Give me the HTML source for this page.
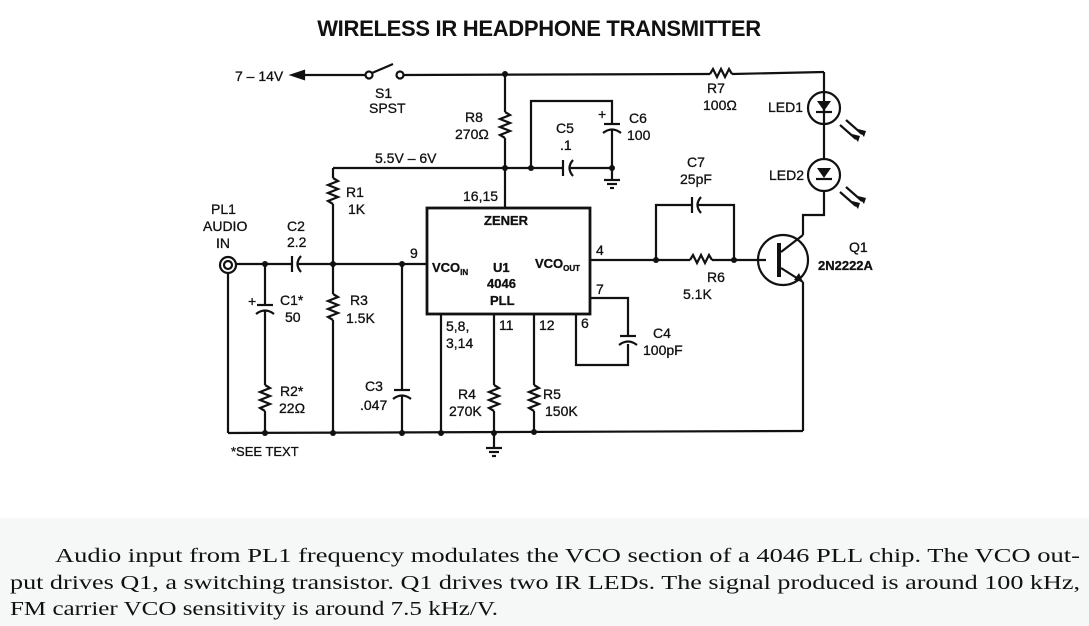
<!DOCTYPE html>
<html><head><meta charset="utf-8"><style>
html,body{margin:0;padding:0;background:#fff}
svg{display:block}
text{font-family:"Liberation Sans",Arial,sans-serif;fill:#111}
.l{font-size:14px;stroke:#111;stroke-width:0.3}
.b{font-weight:bold}
.s{font-family:"Liberation Serif",serif;font-size:20px}
</style></head><body>
<svg width="1089" height="626" viewBox="0 0 1089 626" xmlns="http://www.w3.org/2000/svg">
<rect x="0" y="0" width="1089" height="626" fill="#fff"/>
<rect x="0" y="518" width="1089" height="108" fill="#f6f7f7"/>
<text x="539" y="36" text-anchor="middle" class="b" font-size="22" letter-spacing="-0.3">WIRELESS IR HEADPHONE TRANSMITTER</text>
<g stroke="#111" stroke-width="2.2" fill="none">
<line x1="300" y1="75" x2="365" y2="75"/>
<polygon points="292,75 304,71 304,79" fill="#111"/>
<circle cx="369" cy="75" r="3.5"/><circle cx="400" cy="75" r="3.5"/>
<line x1="372" y1="73" x2="393" y2="64"/>
<line x1="404" y1="75" x2="710" y2="74"/>
<polyline points="710,74 713,69 717,77 721,69 725,77 729,69 732,74"/>
<line x1="732" y1="74" x2="824" y2="72"/>
<line x1="505" y1="74" x2="505" y2="112"/>
<polyline points="505,112 510,115 500,119 510,123 500,127 510,131 500,135 505,138"/>
<line x1="505" y1="138" x2="505" y2="208"/>
<line x1="333" y1="168" x2="563" y2="168"/>
<line x1="563" y1="160" x2="563" y2="176"/>
<path d="M573,160 Q566,168 573,176"/>
<line x1="569" y1="168" x2="612" y2="168"/>
<polyline points="531,168 531,101 612,101 612,124"/>
<line x1="604" y1="124" x2="620" y2="124"/>
<path d="M603,133 Q612,126 621,133"/>
<line x1="612" y1="129" x2="612" y2="180"/>
<line x1="604" y1="180" x2="620" y2="180"/><line x1="607" y1="184" x2="617" y2="184"/><line x1="610" y1="188" x2="614" y2="188"/>
<line x1="333" y1="168" x2="333" y2="178"/>
<polyline points="333,178 338,181 328,185 338,189 328,193 338,197 328,201 333,204"/>
<line x1="333" y1="204" x2="333" y2="294"/>
<polyline points="333,294 338,297 328,301 338,305 328,309 338,313 328,317 333,320"/>
<line x1="333" y1="320" x2="333" y2="433"/>
<circle cx="228" cy="265" r="8"/><circle cx="228" cy="265" r="4"/>
<line x1="236" y1="264" x2="292" y2="264"/>
<line x1="292" y1="256" x2="292" y2="272"/>
<path d="M301,256 Q294,264 301,272"/>
<line x1="298" y1="264" x2="427" y2="264"/>
<line x1="228" y1="273" x2="228" y2="433"/>
<line x1="228" y1="433" x2="803" y2="431"/>
<line x1="265" y1="264" x2="265" y2="305"/>
<line x1="257" y1="305" x2="273" y2="305"/>
<path d="M256,314 Q265,307 274,314"/>
<line x1="265" y1="310" x2="265" y2="385"/>
<polyline points="265,385 270,388 260,392 270,396 260,400 270,404 260,408 265,411"/>
<line x1="265" y1="411" x2="265" y2="433"/>
<line x1="402" y1="264" x2="402" y2="390"/>
<line x1="394" y1="390" x2="410" y2="390"/>
<path d="M393,399 Q402,392 411,399"/>
<line x1="402" y1="395" x2="402" y2="433"/>
<rect x="427" y="208" width="163" height="106" stroke-width="2.8"/>
<line x1="441" y1="314" x2="441" y2="433"/>
<line x1="494" y1="314" x2="494" y2="385"/>
<polyline points="494,385 499,388 489,392 499,396 489,400 499,404 489,408 494,411"/>
<line x1="494" y1="411" x2="494" y2="448"/>
<line x1="486" y1="448" x2="502" y2="448"/><line x1="489" y1="452" x2="499" y2="452"/><line x1="492" y1="456" x2="496" y2="456"/>
<line x1="534" y1="314" x2="534" y2="385"/>
<polyline points="534,385 539,388 529,392 539,396 529,400 539,404 529,408 534,411"/>
<line x1="534" y1="411" x2="534" y2="432"/>
<polyline points="576,314 576,365 628,365 628,344"/>
<path d="M619,345 Q628,338 637,345"/>
<line x1="620" y1="336" x2="636" y2="336"/>
<polyline points="628,336 628,298 590,298"/>
<line x1="590" y1="260" x2="690" y2="260"/>
<polyline points="690,260 693,255 697,263 701,255 705,263 709,255 712,260"/>
<line x1="712" y1="260" x2="766" y2="260"/>
<polyline points="656,260 656,205 692,205"/>
<line x1="692" y1="197" x2="692" y2="213"/>
<path d="M701,197 Q694,205 701,213"/>
<polyline points="698,205 734,205 734,260"/>
<circle cx="783" cy="260" r="25"/>
<line x1="779" y1="243" x2="779" y2="277" stroke-width="4"/>
<line x1="781" y1="252" x2="803" y2="235"/>
<line x1="781" y1="268" x2="803" y2="282"/>
<polyline points="803,235 803,215 824,215 824,190"/>
<line x1="803" y1="282" x2="803" y2="431"/>
<line x1="824" y1="72" x2="824" y2="158"/>
<circle cx="824" cy="108" r="16"/>
<line x1="816" y1="112" x2="832" y2="112"/>
<circle cx="824" cy="175" r="16"/>
<line x1="816" y1="179" x2="832" y2="179"/>
<line x1="840" y1="125" x2="856" y2="139"/><line x1="846" y1="120" x2="862" y2="134"/>
<line x1="840" y1="192" x2="856" y2="206"/><line x1="846" y1="187" x2="862" y2="201"/>
</g>
<g fill="#111">
<polygon points="817,101 831,101 824,111"/>
<polygon points="817,168 831,168 824,178"/>
<polygon points="858,142 852,134 860,136"/><polygon points="864,137 858,129 866,131"/>
<polygon points="858,209 852,201 860,203"/><polygon points="864,204 858,196 866,198"/>
<polygon points="803,282 794,280 799,273"/>
<circle cx="505" cy="74" r="3"/><circle cx="505" cy="168" r="3"/><circle cx="531" cy="168" r="3"/><circle cx="612" cy="168" r="3"/>
<circle cx="265" cy="264" r="3"/><circle cx="333" cy="264" r="3"/><circle cx="402" cy="264" r="3"/>
<circle cx="265" cy="433" r="3"/><circle cx="333" cy="433" r="3"/><circle cx="402" cy="433" r="3"/><circle cx="441" cy="433" r="3"/><circle cx="494" cy="433" r="3"/><circle cx="534" cy="432" r="3"/>
<circle cx="656" cy="260" r="3"/><circle cx="734" cy="260" r="3"/>
</g>
<g class="l">
<text x="235" y="81">7 – 14V</text>
<text x="375" y="98">S1</text><text x="369" y="113">SPST</text>
<text x="465" y="122">R8</text><text x="455" y="139">270Ω</text>
<text x="556" y="133">C5</text><text x="560" y="150">.1</text>
<text x="598" y="119">+</text>
<text x="629" y="123">C6</text><text x="627" y="140">100</text>
<text x="375" y="163">5.5V – 6V</text>
<text x="707" y="93">R7</text><text x="703" y="110">100Ω</text>
<text x="768" y="112">LED1</text><text x="769" y="180">LED2</text>
<text x="687" y="167">C7</text><text x="680" y="184">25pF</text>
<text x="346" y="197">R1</text><text x="348" y="214">1K</text>
<text x="463" y="201">16,15</text>
<text x="484" y="225" class="b" font-size="13">ZENER</text>
<text x="211" y="214">PL1</text><text x="203" y="231">AUDIO</text><text x="216" y="248">IN</text>
<text x="287" y="231">C2</text><text x="287" y="247">2.2</text>
<text x="410" y="258">9</text>
<text x="432" y="272" class="b" font-size="13">VCO<tspan font-size="8" dy="3">IN</tspan></text>
<text x="493" y="272" class="b" font-size="13">U1</text>
<text x="487" y="288" class="b" font-size="13">4046</text>
<text x="490" y="305" class="b" font-size="13">PLL</text>
<text x="535" y="268" class="b" font-size="13">VCO<tspan font-size="8" dy="3">OUT</tspan></text>
<text x="596" y="255">4</text><text x="596" y="294">7</text>
<text x="707" y="282">R6</text><text x="683" y="299">5.1K</text>
<text x="849" y="252">Q1</text><text x="818" y="270" class="b" font-size="13">2N2222A</text>
<text x="248" y="306">+</text>
<text x="280" y="305">C1*</text><text x="285" y="322">50</text>
<text x="350" y="305">R3</text><text x="346" y="323">1.5K</text>
<text x="446" y="331">5,8,</text><text x="446" y="348">3,14</text>
<text x="499" y="330">11</text><text x="539" y="330">12</text><text x="581" y="328">6</text>
<text x="653" y="338">C4</text><text x="643" y="355">100pF</text>
<text x="280" y="396">R2*</text><text x="279" y="413">22Ω</text>
<text x="365" y="391">C3</text><text x="360" y="410">.047</text>
<text x="458" y="399">R4</text><text x="449" y="416">270K</text>
<text x="543" y="399">R5</text><text x="545" y="416">150K</text>
<text x="231" y="456" font-size="13">*SEE TEXT</text>
</g>
<text class="s" x="55" y="562" textLength="1025" lengthAdjust="spacingAndGlyphs">Audio input from PL1 frequency modulates the VCO section of a 4046 PLL chip. The VCO out-</text>
<text class="s" x="10" y="589" textLength="1070" lengthAdjust="spacingAndGlyphs">put drives Q1, a switching transistor. Q1 drives two IR LEDs. The signal produced is around 100 kHz,</text>
<text class="s" x="10" y="615" textLength="488" lengthAdjust="spacingAndGlyphs">FM carrier VCO sensitivity is around 7.5 kHz/V.</text>
</svg>
</body></html>
